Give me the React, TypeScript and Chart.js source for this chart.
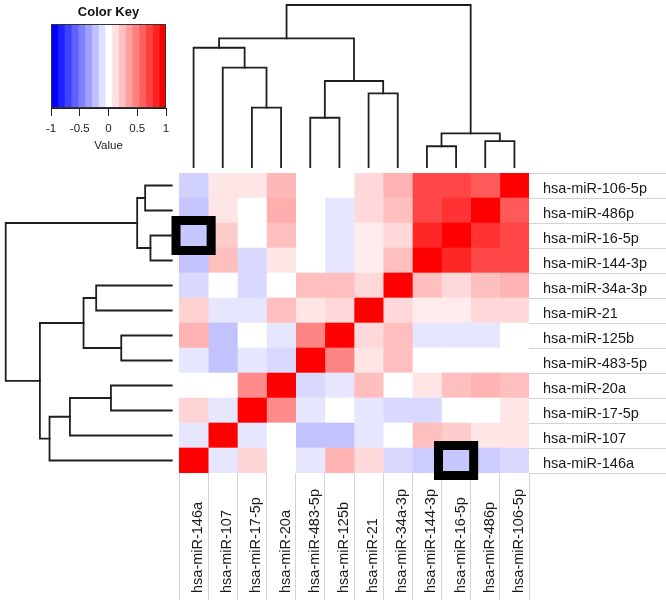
import React, { useEffect, useRef } from 'react';
import { Chart, registerables } from 'chart.js';

Chart.register(...registerables);
Chart.defaults.font.family = '"Liberation Sans", Arial, Helvetica, sans-serif';

// Rows (top to bottom) and columns (left to right) of the heatmap
const rowNames = [
  'hsa-miR-106-5p', 'hsa-miR-486p', 'hsa-miR-16-5p', 'hsa-miR-144-3p',
  'hsa-miR-34a-3p', 'hsa-miR-21', 'hsa-miR-125b', 'hsa-miR-483-5p',
  'hsa-miR-20a', 'hsa-miR-17-5p', 'hsa-miR-107', 'hsa-miR-146a',
];
const colNames = [
  'hsa-miR-146a', 'hsa-miR-107', 'hsa-miR-17-5p', 'hsa-miR-20a',
  'hsa-miR-483-5p', 'hsa-miR-125b', 'hsa-miR-21', 'hsa-miR-34a-3p',
  'hsa-miR-144-3p', 'hsa-miR-16-5p', 'hsa-miR-486p', 'hsa-miR-106-5p',
];

// Correlation values, one row per rowNames entry, ordered like colNames
const correlation = [
  [-0.18, 0.1, 0.1, 0.28, 0, 0, 0.15, 0.3, 0.72, 0.72, 0.65, 1],
  [-0.22, 0.1, 0, 0.32, 0, -0.1, 0.15, 0.25, 0.72, 0.8, 1, 0.65],
  [-0.22, 0.2, 0, 0.25, 0, -0.1, 0.08, 0.15, 0.85, 1, 0.8, 0.72],
  [-0.24, 0.25, -0.15, 0.1, 0, -0.1, 0.08, 0.25, 1, 0.85, 0.72, 0.72],
  [-0.15, 0, -0.15, 0, 0.25, 0.25, 0.15, 1, 0.25, 0.15, 0.25, 0.3],
  [0.18, -0.1, -0.1, 0.25, 0.1, 0.15, 1, 0.15, 0.08, 0.08, 0.15, 0.15],
  [0.3, -0.24, 0, -0.1, 0.48, 1, 0.15, 0.25, -0.1, -0.1, -0.1, 0],
  [-0.1, -0.24, -0.1, -0.15, 1, 0.48, 0.1, 0.25, 0, 0, 0, 0],
  [0, 0, 0.45, 1, -0.15, -0.1, 0.25, 0, 0.1, 0.25, 0.3, 0.25],
  [0.17, -0.1, 1, 0.45, -0.1, 0, -0.1, -0.15, -0.15, 0, 0, 0.1],
  [-0.1, 1, -0.1, 0, -0.24, -0.24, -0.1, 0, 0.25, 0.2, 0.1, 0.1],
  [1, -0.1, 0.17, 0, -0.1, 0.3, 0.15, -0.15, -0.2, -0.22, -0.2, -0.15],
];

// Hierarchical clustering: merge k joins mergeLeft[k] and mergeRight[k]
// (a leaf name, or the index of an earlier merge) at height mergeHeight[k]
const mergeLeft: (string | number)[] = [
  'hsa-miR-17-5p', 'hsa-miR-107', 'hsa-miR-146a', 'hsa-miR-483-5p', 'hsa-miR-21',
  3, 2, 'hsa-miR-144-3p', 'hsa-miR-486p', 7, 6,
];
const mergeRight: (string | number)[] = [
  'hsa-miR-20a', 0, 1, 'hsa-miR-125b', 'hsa-miR-34a-3p',
  4, 5, 'hsa-miR-16-5p', 'hsa-miR-106-5p', 8, 9,
];
const mergeHeight = [0.366, 0.613, 0.736, 0.304, 0.455, 0.531, 0.794, 0.128, 0.16, 0.208, 1.0];

// Highlighted cells (row, column)
const highlightRows = ['hsa-miR-16-5p', 'hsa-miR-146a'];
const highlightCols = ['hsa-miR-146a', 'hsa-miR-16-5p'];

// Colour key
const keyTickValues = [-1, -0.5, 0, 0.5, 1];
const keyBinCount = 17;

const TEXT = '#1a1a1a';
const FONT = '"Liberation Sans", Arial, Helvetica, sans-serif';

function bluered(v: number): string {
  const t = Math.max(-1, Math.min(1, v));
  if (t >= 0) {
    const g = Math.round(255 * (1 - t));
    return `rgb(255,${g},${g})`;
  }
  const g = Math.round(255 * (1 + t));
  return `rgb(${g},${g},255)`;
}

function walkTree(
  leafPos: (name: string) => number,
  seg: (a: { p: number; h: number }, b: { p: number; h: number }, h: number) => void,
) {
  const nodePos: number[] = [];
  const nodeH: number[] = [];
  const info = (c: string | number) =>
    typeof c === 'string' ? { p: leafPos(c), h: 0 } : { p: nodePos[c], h: nodeH[c] };
  mergeHeight.forEach((h, k) => {
    const a = info(mergeLeft[k]);
    const b = info(mergeRight[k]);
    seg(a, b, h);
    nodePos[k] = (a.p + b.p) / 2;
    nodeH[k] = h;
  });
}

const dendroPlugin = {
  id: 'dendro',
  afterDraw(chart: any) {
    const { ctx, chartArea } = chart;
    const xs = chart.scales.x2;
    const ys = chart.scales.y;
    ctx.save();
    ctx.strokeStyle = '#1f1f1f';
    ctx.lineWidth = 1.8;
    ctx.lineCap = 'square';
    // top (columns)
    const topLeaf = chartArea.top - 6;
    const topSpan = topLeaf - 5;
    const Y = (h: number) => topLeaf - h * topSpan;
    walkTree((n) => xs.getPixelForValue(colNames.indexOf(n)), (a, b, h) => {
      ctx.beginPath();
      ctx.moveTo(a.p, Y(a.h));
      ctx.lineTo(a.p, Y(h));
      ctx.lineTo(b.p, Y(h));
      ctx.lineTo(b.p, Y(b.h));
      ctx.stroke();
    });
    // left (rows)
    const leftLeaf = chartArea.left - 7.3;
    const leftSpan = leftLeaf - 5.7;
    const X = (h: number) => leftLeaf - h * leftSpan;
    walkTree((n) => ys.getPixelForValue(rowNames.indexOf(n)), (a, b, h) => {
      ctx.beginPath();
      ctx.moveTo(X(a.h), a.p);
      ctx.lineTo(X(h), a.p);
      ctx.lineTo(X(h), b.p);
      ctx.lineTo(X(b.h), b.p);
      ctx.stroke();
    });
    ctx.restore();
  },
};

const boxPlugin = {
  id: 'boxes',
  afterDatasetsDraw(chart: any) {
    const { ctx } = chart;
    const xs = chart.scales.x;
    const ys = chart.scales.y;
    const rowH = ys.height / rowNames.length;
    ctx.save();
    ctx.strokeStyle = '#000';
    ctx.lineWidth = 9;
    highlightRows.forEach((rn, k) => {
      const ri = rowNames.indexOf(rn);
      const ci = colNames.indexOf(highlightCols[k]);
      const x0 = xs.getPixelForValue(ci);
      const x1 = xs.getPixelForValue(ci + 1);
      const yc = ys.getPixelForValue(ri);
      const y0 = yc - rowH / 2;
      const y1 = yc + rowH / 2;
      ctx.strokeRect(x0 - 3, y0 - 2.5, x1 - x0 + 6, y1 - y0 + 5);
    });
    ctx.restore();
  },
};

const bottomLabelPlugin = {
  id: 'bottomLabels',
  afterDraw(chart: any) {
    const { ctx, chartArea } = chart;
    const xs = chart.scales.x2;
    ctx.save();
    ctx.font = `14.5px ${FONT}`;
    ctx.fillStyle = TEXT;
    ctx.textAlign = 'left';
    ctx.textBaseline = 'alphabetic';
    colNames.forEach((n, i) => {
      const px = xs.getPixelForValue(i);
      ctx.save();
      ctx.translate(px + 8.5, chartArea.bottom + 120);
      ctx.rotate(-Math.PI / 2);
      ctx.fillText(n, 0, 0);
      ctx.restore();
    });
    ctx.restore();
  },
};

const keyFramePlugin = {
  id: 'keyFrame',
  afterDatasetsDraw(chart: any) {
    const { ctx, chartArea } = chart;
    ctx.save();
    ctx.strokeStyle = '#333';
    ctx.lineWidth = 1;
    ctx.strokeRect(
      Math.round(chartArea.left) + 0.5,
      Math.round(chartArea.top) + 0.5,
      Math.round(chartArea.right - chartArea.left) - 1,
      Math.round(chartArea.bottom - chartArea.top) - 1,
    );
    ctx.restore();
  },
};

export default function App() {
  const mainRef = useRef<HTMLCanvasElement>(null);
  const keyRef = useRef<HTMLCanvasElement>(null);

  useEffect(() => {
    const main = new Chart(mainRef.current as HTMLCanvasElement, {
      type: 'bar',
      data: {
        labels: rowNames,
        datasets: colNames.map((cn, c) => ({
          label: cn,
          data: rowNames.map(() => 1),
          backgroundColor: correlation.map((row) => bluered(row[c])),
          borderWidth: 0,
          barPercentage: 1,
          categoryPercentage: 1,
          xAxisID: 'x',
          yAxisID: 'y',
        })),
      },
      options: {
        indexAxis: 'y',
        responsive: false,
        animation: false,
        events: [],
        layout: { padding: { left: 179, top: 173, right: 0, bottom: 0 } },
        plugins: {
          legend: { display: false },
          tooltip: { enabled: false },
          title: { display: false },
        },
        scales: {
          x: { type: 'linear', stacked: true, min: 0, max: colNames.length, display: false },
          x2: {
            type: 'category',
            labels: colNames,
            position: 'bottom',
            offset: true,
            grid: {
              offset: true,
              drawOnChartArea: false,
              drawTicks: true,
              tickLength: 127,
              color: '#d4d4d4',
              lineWidth: 1,
            },
            border: { display: false },
            ticks: { display: false },
            afterFit: (s: any) => {
              s.height = 127;
            },
          },
          y: {
            type: 'category',
            position: 'right',
            stacked: true,
            offset: true,
            grid: {
              offset: true,
              drawOnChartArea: false,
              drawTicks: true,
              tickLength: 137,
              color: '#d4d4d4',
              lineWidth: 1,
            },
            border: { display: false },
            ticks: {
              padding: -123,
              autoSkip: false,
              labelOffset: 3,
              color: TEXT,
              font: { size: 14.5 },
            },
            afterFit: (s: any) => {
              s.width = 137;
            },
          },
        },
      } as any,
      plugins: [dendroPlugin, boxPlugin, bottomLabelPlugin],
    });

    const bins = Array.from({ length: keyBinCount }, (_, i) => i);
    const key = new Chart(keyRef.current as HTMLCanvasElement, {
      type: 'bar',
      data: {
        labels: ['key'],
        datasets: bins.map((i) => ({
          data: [[-1 + (2 * i) / keyBinCount, -1 + (2 * (i + 1)) / keyBinCount]],
          backgroundColor: bluered(-1 + (2 * i) / (keyBinCount - 1)),
          borderWidth: 0,
          barPercentage: 1,
          categoryPercentage: 1,
          grouped: false,
        })),
      },
      options: {
        indexAxis: 'y',
        responsive: false,
        animation: false,
        events: [],
        layout: { padding: { left: 51, right: 34, top: 0, bottom: 0 } },
        plugins: {
          legend: { display: false },
          tooltip: { enabled: false },
          title: {
            display: true,
            text: 'Color Key',
            color: '#111',
            font: { size: 13, weight: 'bold' },
            padding: { top: 4.5, bottom: 4 },
          },
        },
        scales: {
          y: { display: false },
          x: {
            type: 'linear',
            min: -1,
            max: 1,
            afterBuildTicks: (s: any) => {
              s.ticks = keyTickValues.map((v) => ({ value: v }));
            },
            ticks: {
              color: '#222',
              font: { size: 11.5 },
              padding: 6,
              callback: (v: any) => String(v),
            },
            grid: { drawOnChartArea: false, drawTicks: true, tickLength: 8, color: '#222' },
            border: { display: true, color: '#222' },
            title: {
              display: true,
              text: 'Value',
              color: '#222',
              font: { size: 11.5 },
              padding: { top: 0, bottom: 7 },
            },
            afterFit: (s: any) => {
              s.height = 52;
            },
          },
        },
      } as any,
      plugins: [keyFramePlugin],
    });

    return () => {
      main.destroy();
      key.destroy();
    };
  }, []);

  return (
    <div style={{ position: 'absolute', left: 0, top: 0, width: 666, height: 600, background: '#fff' }}>
      <canvas ref={mainRef} width={666} height={600} style={{ position: 'absolute', left: 0, top: 0 }} />
      <canvas ref={keyRef} width={200} height={160} style={{ position: 'absolute', left: 0, top: 0 }} />
    </div>
  );
}
